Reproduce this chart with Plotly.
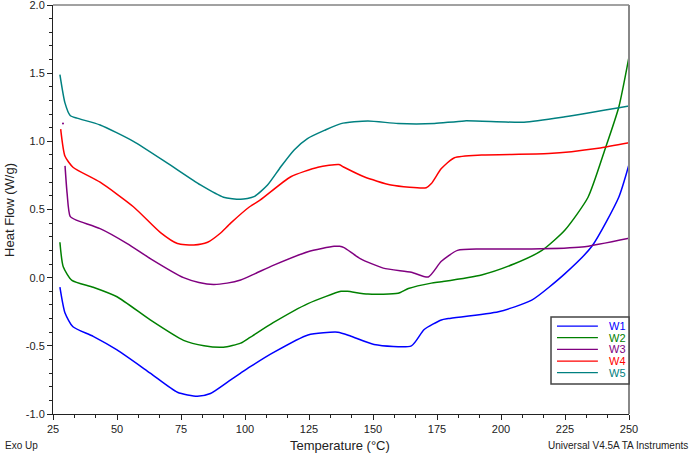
import plotly.graph_objects as go

# ---- data ----
w1_t = [27.7, 29.7, 32.8, 40.7, 50, 63, 73.6, 81.4, 86.5, 94.4, 98.3, 101.9, 111, 124.6, 136.3, 141.4, 150.4, 165, 170, 176.7, 179.4, 199, 212, 225, 235.5, 246, 250]
w1_v = [-0.07, -0.26, -0.36, -0.43, -0.53, -0.70, -0.84, -0.87, -0.85, -0.75, -0.70, -0.655, -0.55, -0.42, -0.40, -0.43, -0.49, -0.50, -0.38, -0.31, -0.30, -0.25, -0.165, 0.03, 0.23, 0.59, 0.83]

w2_t = [27.7, 29, 32.4, 40.7, 50, 63, 76, 84, 91.6, 98.3, 101.8, 111, 124.6, 137.5, 140, 148, 159.8, 163.8, 172.8, 176.7, 192.4, 205, 216, 225, 234, 240.6, 246, 250]
w2_v = [0.26, 0.08, -0.02, -0.07, -0.14, -0.31, -0.46, -0.50, -0.51, -0.48, -0.44, -0.33, -0.19, -0.10, -0.10, -0.12, -0.115, -0.08, -0.04, -0.03, 0.02, 0.10, 0.20, 0.35, 0.59, 0.94, 1.25, 1.62]

w3_t = [29.7, 30.5, 31.7, 34.4, 43.4, 54, 63, 76, 82, 87.7, 93, 98.3, 104, 111, 124.6, 134.8, 137, 138.7, 145, 154, 165, 171.6, 176.7, 183, 192, 212, 231.6, 250]
w3_v = [0.82, 0.62, 0.45, 0.42, 0.36, 0.25, 0.14, 0.0, -0.035, -0.05, -0.04, -0.017, 0.03, 0.09, 0.19, 0.23, 0.23, 0.22, 0.14, 0.07, 0.04, 0.005, 0.12, 0.20, 0.21, 0.21, 0.225, 0.29]
w3_stray_t = [28.9]
w3_stray_v = [1.13]

w4_t = [28, 29.7, 32.8, 43.4, 56.4, 67, 73.6, 80, 85.4, 90, 94.4, 101.8, 106, 117.9, 128.5, 136.7, 138.7, 146.5, 157, 170.8, 172.8, 176.7, 181.8, 192.4, 218.6, 238, 250]
w4_v = [1.09, 0.89, 0.81, 0.70, 0.52, 0.33, 0.25, 0.24, 0.26, 0.32, 0.40, 0.52, 0.57, 0.74, 0.81, 0.83, 0.81, 0.74, 0.68, 0.66, 0.69, 0.80, 0.88, 0.90, 0.91, 0.95, 0.99]

w5_t = [27.7, 29.7, 31.7, 34.4, 43.4, 56.4, 69.7, 82.6, 91.6, 98.3, 103.5, 108.8, 114, 119.2, 124.4, 131, 137.5, 148, 159.8, 174, 185.7, 209, 225, 250]
w5_v = [1.49, 1.28, 1.19, 1.17, 1.12, 1.0, 0.84, 0.68, 0.59, 0.575, 0.594, 0.68, 0.814, 0.937, 1.02, 1.08, 1.13, 1.15, 1.13, 1.13, 1.15, 1.14, 1.18, 1.26]

names = ["W1", "W2", "W3", "W4", "W5"]
colors = ["#0000FF", "#008000", "#800080", "#FF0000", "#008080"]
series = [(w1_t, w1_v), (w2_t, w2_v), (w3_t, w3_v), (w4_t, w4_v), (w5_t, w5_v)]

x_ticks = [25, 50, 75, 100, 125, 150, 175, 200, 225, 250]
y_ticks = [-1.0, -0.5, 0.0, 0.5, 1.0, 1.5, 2.0]

fig = go.Figure()
for (t, v), n, c in zip(series, names, colors):
    fig.add_trace(go.Scatter(
        x=t, y=v, mode="lines", name=n, showlegend=False,
        line=dict(color=c, width=1.5, shape="spline", smoothing=0.6),
    ))
fig.add_trace(go.Scatter(x=w3_stray_t, y=w3_stray_v, mode="markers",
                         marker=dict(color=colors[2], size=2), showlegend=False))

# custom compact legend (paper coordinates)
shapes = [
    dict(type="line", xref="paper", yref="paper", x0=0, x1=1, y0=1, y1=1,
         line=dict(color="#444", width=1)),
    dict(type="line", xref="paper", yref="paper", x0=1, x1=1, y0=0, y1=1,
         line=dict(color="#888", width=2)),
    dict(type="rect", xref="paper", yref="paper", x0=0.8646, x1=1.0, y0=0.0733, y1=0.2372,
         line=dict(color="#444", width=1.5), fillcolor="white", layer="above"),
]
annotations = []
row_top = 0.215
row_step = 0.0285
for i, (n, c) in enumerate(zip(names, colors)):
    yy = row_top - i * row_step
    shapes.append(dict(type="line", xref="paper", yref="paper", x0=0.875, x1=0.946, y0=yy, y1=yy,
                       line=dict(color=c, width=1.2), layer="above"))
    annotations.append(dict(text=n, xref="paper", yref="paper", x=0.962, y=yy,
                            xanchor="left", yanchor="middle", showarrow=False,
                            font=dict(size=11, color=c)))

annotations += [
    dict(text="Exo Up", xref="paper", yref="paper", x=-0.087, y=-0.076,
         xanchor="left", yanchor="middle", showarrow=False, font=dict(size=10)),
    dict(text="Universal V4.5A TA Instruments", xref="paper", yref="paper", x=1.106, y=-0.076,
         xanchor="right", yanchor="middle", showarrow=False, font=dict(size=10)),
    dict(text="Temperature (°C)", xref="paper", yref="paper", x=0.498, y=-0.078,
         xanchor="center", yanchor="middle", showarrow=False, font=dict(size=13)),
    dict(text="Heat Flow (W/g)", xref="paper", yref="paper", x=-0.0747, y=0.499,
         xanchor="center", yanchor="middle", textangle=-90, showarrow=False, font=dict(size=13)),
]

font = "Liberation Sans, Arial, sans-serif"
fig.update_layout(
    width=692, height=455,
    margin=dict(l=53, r=63, t=5, b=41),
    paper_bgcolor="white", plot_bgcolor="white",
    font=dict(family=font, size=11, color="#222"),
    showlegend=False,
    xaxis=dict(range=[25, 250], tickvals=x_ticks, ticktext=[str(v) for v in x_ticks],
               ticks="outside", ticklen=5, tickcolor="#222", showgrid=False, zeroline=False,
               showline=True, linecolor="#222", linewidth=1, mirror=False, automargin=False,
               minor=dict(dtick=25/3, ticks="outside", ticklen=3, tickcolor="#222", showgrid=False)),
    yaxis=dict(range=[-1, 2], tickvals=y_ticks, ticktext=[f"{v:.1f}" for v in y_ticks],
               ticks="outside", ticklen=5, tickcolor="#222", showgrid=False, zeroline=False,
               showline=True, linecolor="#222", linewidth=1, mirror=False, automargin=False,
               ticklabeloverflow="allow",
               minor=dict(dtick=0.1, ticks="outside", ticklen=3, tickcolor="#222", showgrid=False)),
    shapes=shapes,
    annotations=annotations,
)

fig.write_html("out.html", post_script="document.body.style.margin='0';",
               config={"displayModeBar": False})
